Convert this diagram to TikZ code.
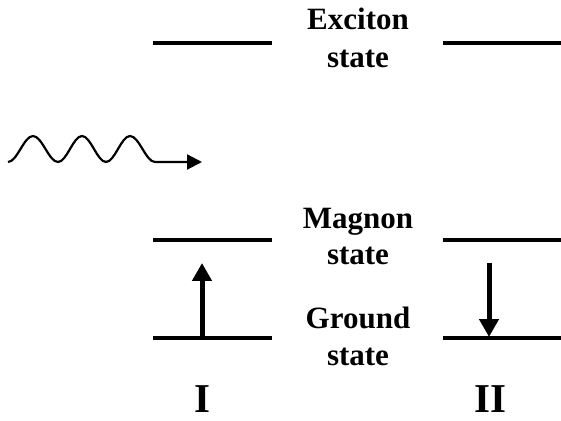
\documentclass[tikz,border=0pt]{standalone}
\usepackage{fontspec}
\setmainfont{Liberation Serif}
\usetikzlibrary{arrows.meta}
\begin{document}
\begin{tikzpicture}[x=1pt,y=1pt,
  level/.style={line width=3.5pt},
  lbl/.style={anchor=base,inner sep=0pt,font=\fontsize{31}{36}\selectfont\bfseries},
  roman/.style={anchor=base,inner sep=0pt,font=\fontsize{41}{48}\selectfont\bfseries},
  trans/.style={line width=5pt,-{Triangle[width=19pt,length=18pt]}},
  wave/.style={line width=2.2pt,-{Triangle[width=15pt,length=15pt]}}]
\useasboundingbox (0,0) rectangle (561,420);
% levels
\coordinate (exL1) at (153,377); \coordinate (exL2) at (272,377);
\coordinate (exR1) at (443,377); \coordinate (exR2) at (561,377);
\coordinate (mgL1) at (153,180); \coordinate (mgL2) at (272,180);
\coordinate (mgR1) at (443,180); \coordinate (mgR2) at (561,180);
\coordinate (gdL1) at (153,82);  \coordinate (gdL2) at (272,82);
\coordinate (gdR1) at (443,82);  \coordinate (gdR2) at (561,82);
\draw[level] (exL1) -- (exL2);
\draw[level] (exR1) -- (exR2);
\draw[level] (mgL1) -- (mgL2);
\draw[level] (mgR1) -- (mgR2);
\draw[level] (gdL1) -- (gdL2);
\draw[level] (gdR1) -- (gdR2);
% labels
\node[lbl] (ex1) at (358,390) {Exciton};
\node[lbl] (ex2) at (358,352) {state};
\node[lbl] (mg1) at (358,191) {Magnon};
\node[lbl] (mg2) at (358,155) {state};
\node[lbl] (gd1) at (358,92) {Ground};
\node[lbl] (gd2) at (358,55) {state};
\node[roman] (r1) at (202,8) {I};
\node[roman] (r2) at (490,8) {II};
% transitions
\coordinate (upA) at (202,82); \coordinate (upB) at (202,157);
\coordinate (dnA) at (489,157); \coordinate (dnB) at (489,83);
\draw[trans] (upA) -- (upB);
\draw[trans] (dnA) -- (dnB);
% photon
\coordinate (w0) at (8,258);
\coordinate (w1) at (202,258);
\draw[wave] (w0) cos (20.5,271) sin (33,284) cos (45.5,271) sin (58,258)
  cos (70,271) sin (82,284) cos (94,271) sin (106,258)
  cos (118,271) sin (130,284) cos (142.5,271) sin (155,258) -- (w1);
\end{tikzpicture}
\end{document}
